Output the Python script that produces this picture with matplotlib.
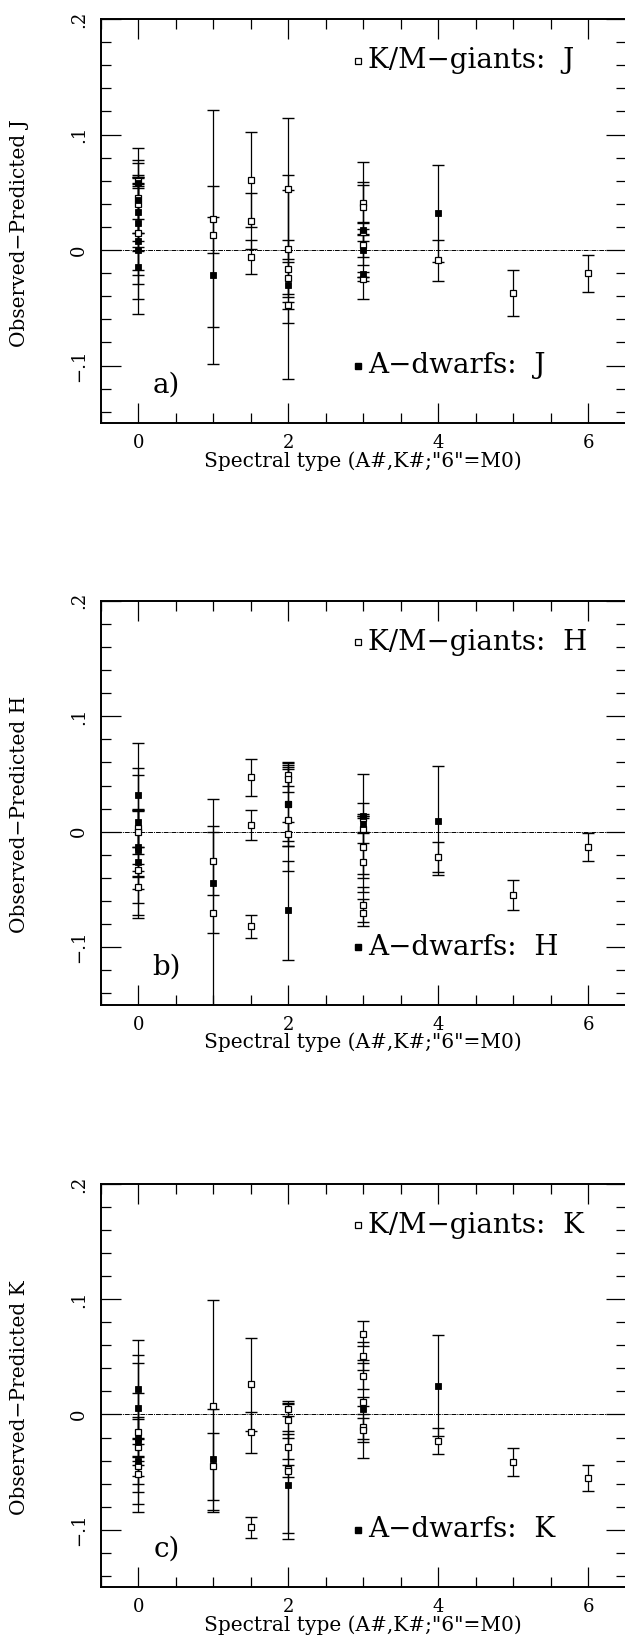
import numpy as np
import matplotlib
matplotlib.use("Agg")
import matplotlib.pyplot as plt
from matplotlib.ticker import MultipleLocator, FixedLocator, FixedFormatter

plt.rcParams['font.family'] = ['DejaVu Serif']

# --- data: observed - predicted magnitudes vs spectral type ---
# J band
j_dwarf_x = [0, 0, 0, 0, 0, 0, 0, 1, 2, 3, 3, 3, 4]
j_dwarf_y = [0.058, 0.043, 0.033, 0.023, 0.008, 0.0, -0.015, -0.022, -0.030, 0.017, 0.0, -0.021, 0.032]
j_dwarf_e = [0.004, 0.035, 0.055, 0.040, 0.050, 0.055, 0.014, 0.077, 0.082, 0.059, 0.013, 0.002, 0.042]
j_giant_x = [0, 0, 0, 0, 1, 1, 1.5, 1.5, 1.5, 2, 2, 2, 2, 2, 3, 3, 3, 3, 3, 4, 5, 6]
j_giant_y = [0.060, 0.045, 0.040, 0.015, 0.027, 0.013, 0.061, 0.025, -0.006, 0.053, 0.001, -0.016,
             -0.024, -0.048, 0.041, 0.037, 0.016, 0.004, -0.025, -0.009, -0.037, -0.020]
j_giant_e = [0.003, 0.030, 0.025, 0.012, 0.094, 0.016, 0.041, 0.024, 0.015, 0.061, 0.064, 0.025,
             0.014, 0.003, 0.018, 0.019, 0.008, 0.010, 0.002, 0.018, 0.020, 0.016]

# H band
h_dwarf_x = [0, 0, 0, 0, 0, 1, 2, 2, 3, 3, 4]
h_dwarf_y = [0.032, 0.008, -0.013, -0.016, -0.026, -0.044, 0.024, -0.068, 0.0135, 0.0066, 0.0095]
h_dwarf_e = [0.045, 0.047, 0.062, 0.034, 0.046, 0.044, 0.036, 0.043, 0.002, 0.043, 0.047]
h_giant_x = [0, 0, 0, 0, 1, 1, 1.5, 1.5, 1.5, 2, 2, 2, 2, 2, 3, 3, 3, 3, 3, 3, 4, 5, 6]
h_giant_y = [0.003, 0.0, -0.033, -0.048, -0.025, -0.070, 0.047, 0.006, -0.082, 0.0495, 0.046, 0.024,
             0.010, -0.002, 0.0115, 0.002, -0.013, -0.026, -0.063, -0.070, -0.022, -0.055, -0.0135]
h_giant_e = [0.016, 0.019, 0.005, 0.014, 0.030, 0.098, 0.016, 0.013, 0.010, 0.010, 0.012, 0.032,
             0.044, 0.010, 0.013, 0.012, 0.027, 0.026, 0.015, 0.012, 0.013, 0.013, 0.012]

# K band
k_dwarf_x = [0, 0, 0, 0, 0, 1, 2, 3, 4]
k_dwarf_y = [0.022, 0.006, -0.020, -0.024, -0.040, -0.039, -0.061, 0.0045, 0.025]
k_dwarf_e = [0.043, 0.046, 0.065, 0.043, 0.038, 0.044, 0.047, 0.0425, 0.044]
k_giant_x = [0, 0, 0, 0, 1, 1, 1.5, 1.5, 1.5, 2, 2, 2, 2, 2, 3, 3, 3, 3, 3, 3, 4, 5, 6]
k_giant_y = [-0.015, -0.028, -0.045, -0.052, 0.007, -0.045, 0.026, -0.0155, -0.098, 0.005, -0.005,
             -0.028, -0.047, -0.049, 0.070, 0.0505, 0.0335, 0.011, -0.0105, -0.0135, -0.023, -0.041, -0.055]
k_giant_e = [0.011, 0.008, 0.008, 0.008, 0.092, 0.029, 0.040, 0.018, 0.009, 0.0065, 0.015, 0.011,
             0.056, 0.005, 0.011, 0.012, 0.011, 0.004, 0.0105, 0.0105, 0.011, 0.012, 0.011]

bands = ['J', 'H', 'K']
panel_tags = ['a)', 'b)', 'c)']
dwarfs = [(j_dwarf_x, j_dwarf_y, j_dwarf_e), (h_dwarf_x, h_dwarf_y, h_dwarf_e), (k_dwarf_x, k_dwarf_y, k_dwarf_e)]
giants = [(j_giant_x, j_giant_y, j_giant_e), (h_giant_x, h_giant_y, h_giant_e), (k_giant_x, k_giant_y, k_giant_e)]

W, H = 625, 1639
fig = plt.figure(figsize=(W / 100, H / 100), dpi=100)

# axes boxes in pixels: (top, bottom)
boxes = [(19, 423.3), (600.7, 1005), (1184, 1587.3)]
left_px, width_px = 100.7, 525.0

for i, ax_box in enumerate(boxes):
    top, bot = ax_box
    ax = fig.add_axes([left_px / W, (H - bot) / H, width_px / W, (bot - top) / H])

    gx, gy, ge = giants[i]
    dx, dy, de = dwarfs[i]

    ax.axhline(0, color='black', lw=0.7, ls=(0, (5, 1, 1, 1)), zorder=1)

    ax.errorbar(gx, gy, yerr=ge, fmt='none', ecolor='black', elinewidth=0.9,
                capsize=4.0, capthick=1.0, zorder=2)
    ax.errorbar(dx, dy, yerr=de, fmt='none', ecolor='black', elinewidth=0.9,
                capsize=4.0, capthick=1.0, zorder=2)
    ax.plot(gx, gy, 's', ms=4.2, mfc='white', mec='black', mew=0.9, zorder=3)
    ax.plot(dx, dy, 's', ms=4.4, mfc='black', mec='black', mew=0.6, zorder=4)

    # in-plot legend
    ax.plot([2.93], [0.164], 's', ms=4.2, mfc='white', mec='black', mew=0.9)
    ax.text(3.07, 0.164, 'K/M\u2212giants:  ' + bands[i], fontsize=20, va='center', ha='left')
    ax.plot([2.93], [-0.1], 's', ms=4.4, mfc='black', mec='black')
    ax.text(3.07, -0.1, 'A\u2212dwarfs:  ' + bands[i], fontsize=20, va='center', ha='left')
    ax.text(0.38, -0.117, panel_tags[i], fontsize=20, va='center', ha='center')

    ax.set_xlim(-0.5, 6.5)
    ax.set_ylim(-0.15, 0.2)
    ax.xaxis.set_major_locator(FixedLocator([0, 2, 4, 6]))
    ax.xaxis.set_minor_locator(MultipleLocator(0.5))
    ax.yaxis.set_major_locator(FixedLocator([-0.1, 0, 0.1, 0.2]))
    ax.yaxis.set_major_formatter(FixedFormatter(['\u2212.1', '0', '.1', '.2']))
    ax.yaxis.set_minor_locator(MultipleLocator(0.02))
    ax.tick_params(which='both', direction='in', top=True, right=True, width=0.9, labelsize=13)
    ax.tick_params(which='major', length=14.5)
    ax.tick_params(which='minor', length=7.5)
    ax.tick_params(axis='x', pad=8)
    ax.tick_params(axis='y', pad=9)
    for lab in ax.get_yticklabels():
        lab.set_rotation(90)
        lab.set_va('center')
    for sp in ax.spines.values():
        sp.set_linewidth(1.4)
    ax.spines['right'].set_visible(False)

    ax.set_xlabel('Spectral type (A#,K#;"6"=M0)', fontsize=14.5, labelpad=-1)
    ax.set_ylabel('Observed\u2212Predicted ' + bands[i], fontsize=14.5, va='center')
    ax.yaxis.set_label_coords(-0.154, 0.471)

fig.savefig('out.png', dpi=100)
